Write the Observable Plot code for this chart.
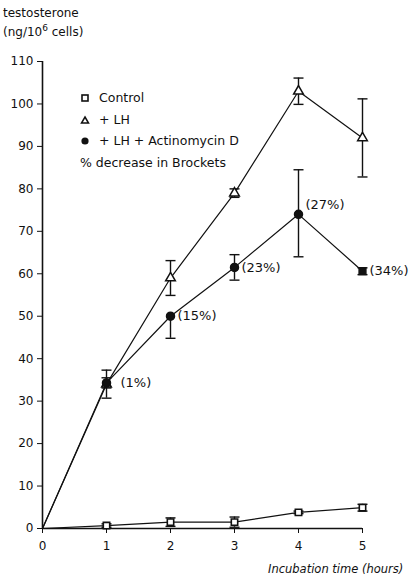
<!DOCTYPE html>
<html>
<head>
<meta charset="utf-8">
<script src="https://cdn.jsdelivr.net/npm/d3@7"></script>
<script src="https://cdn.jsdelivr.net/npm/@observablehq/plot@0.6"></script>
<style>
  body { margin: 0; background: #fff; }
  #wrap { position: relative; width: 410px; height: 579px; font-family: "DejaVu Sans", sans-serif; color: #111; }
  .lbl { position: absolute; font-size: 12px; white-space: nowrap; line-height: 1; }
  .leg { position: absolute; font-size: 12.5px; white-space: nowrap; line-height: 1; display: flex; align-items: center; }
  .leg svg { margin-right: 9px; }
</style>
</head>
<body>
<div id="wrap">
  <div id="chart"></div>
</div>
<script>
const hours = [0, 1, 2, 3, 4, 5];
const control = [0, 0.7, 1.5, 1.5, 3.8, 4.9];
const controlErr = [0, 0.4, 1.0, 1.2, 0.3, 0.8];
const lh = [0, 34, 59, 79, 103, 92];
const lhErr = [0, 3.3, 4.1, 1.0, 3.1, 9.2];
const act = [0, 34.3, 50, 61.5, 74, 60.6];
const actErrUp = [0, 1.2, 0, 3.0, 10.5, 0.8];
const actErrDown = [0, 1.2, 5.2, 3.0, 10.0, 0.8];
const pctLabels = ["", "(1%)", "(15%)", "(23%)", "(27%)", "(34%)"];
const yTicks = [0, 10, 20, 30, 40, 50, 60, 70, 80, 90, 100, 110];
const legendNames = ["Control", "+ LH", "+ LH + Actinomycin D"];
const noteText = "% decrease in Brockets";
const yTitle1 = "testosterone";
const yTitle2 = "(ng/10<sup style='font-size:9px'>6</sup> cells)";
const xTitle = "Incubation time (hours)";

const rows = (vals, lo, hi) => hours.map((h, i) => ({x: h, y: vals[i], lo: vals[i] - lo[i], hi: vals[i] + hi[i], label: pctLabels[i], i}));
const cRows = rows(control, controlErr, controlErr);
const lRows = rows(lh, lhErr, lhErr);
const aRows = rows(act, actErrDown, actErrUp);
const pts = r => r.filter(d => d.x > 0);

const cap = {draw(ctx, size) { const w = 5; ctx.moveTo(-w, 0); ctx.lineTo(w, 0); }};
const errMarks = (r) => [
  Plot.ruleX(pts(r), {x: "x", y1: "lo", y2: "hi", stroke: "#111", strokeWidth: 1.4}),
  Plot.dot(pts(r).filter(d => d.hi > d.y), {x: "x", y: "hi", symbol: cap, stroke: "#111", strokeWidth: 1.4, r: 5}),
  Plot.dot(pts(r).filter(d => d.lo < d.y), {x: "x", y: "lo", symbol: cap, stroke: "#111", strokeWidth: 1.4, r: 5})
];

const chart = Plot.plot({
  width: 410,
  height: 579,
  marginLeft: 42,
  marginRight: 48,
  marginTop: 61,
  marginBottom: 51,
  style: {fontFamily: "DejaVu Sans, sans-serif", fontSize: "12px", color: "#111", background: "white"},
  x: {domain: [0, 5], ticks: hours, tickSize: 5, tickPadding: 8, label: null, tickFormat: d3.format("d")},
  y: {domain: [0, 110], ticks: yTicks, tickSize: 5, tickPadding: 4, label: null},
  marks: [
    Plot.ruleY([0], {stroke: "#111", strokeWidth: 1.6}),
    Plot.ruleX([0], {stroke: "#111", strokeWidth: 1.6}),
    Plot.line(cRows, {x: "x", y: "y", stroke: "#111", strokeWidth: 1.2}),
    Plot.line(lRows, {x: "x", y: "y", stroke: "#111", strokeWidth: 1.2}),
    Plot.line(aRows, {x: "x", y: "y", stroke: "#111", strokeWidth: 1.2}),
    ...errMarks(cRows),
    ...errMarks(lRows),
    ...errMarks(aRows),
    Plot.dot(pts(cRows), {x: "x", y: "y", symbol: "square", r: 3.6, fill: "white", stroke: "#111", strokeWidth: 1.6}),
    Plot.dot(pts(lRows), {x: "x", y: "y", symbol: "triangle", r: 3.6, fill: "white", stroke: "#111", strokeWidth: 1.5}),
    Plot.dot(pts(aRows).filter(d => d.x < 5), {x: "x", y: "y", symbol: "circle", r: 4, fill: "#111", stroke: "#111"}),
    Plot.dot(pts(aRows).filter(d => d.x === 5), {x: "x", y: "y", symbol: "square", r: 3.8, fill: "#111", stroke: "#111"}),
    Plot.text(pts(aRows).filter(d => d.x === 1), {x: "x", y: "y", text: "label", textAnchor: "start", dx: 14, fontSize: 13}),
    Plot.text(pts(aRows).filter(d => d.x === 2 || d.x === 3 || d.x === 5), {x: "x", y: "y", text: "label", textAnchor: "start", dx: 7, fontSize: 13}),
    Plot.text(pts(aRows).filter(d => d.x === 4), {x: "x", y: "y", text: "label", textAnchor: "start", dx: 7, dy: -10, fontSize: 13})
  ]
});
document.getElementById("chart").appendChild(chart);

const wrap = document.getElementById("wrap");
function addLabel(html, left, top, cls, extra) {
  const d = document.createElement("div");
  d.className = cls;
  d.innerHTML = html;
  d.style.left = left + "px";
  d.style.top = top + "px";
  if (extra) Object.assign(d.style, extra);
  wrap.appendChild(d);
  return d;
}
addLabel(yTitle1, 3, 7, "lbl");
addLabel(yTitle2, 3, 24, "lbl");
addLabel(xTitle, 268, 564, "lbl", {fontStyle: "italic", fontSize: "11.5px"});

const icons = [
  "<svg width='10' height='10'><rect x='2' y='2' width='6' height='6' fill='white' stroke='#111' stroke-width='1.6'/></svg>",
  "<svg width='10' height='10'><path d='M5 2 L8.5 8 L1.5 8 Z' fill='white' stroke='#111' stroke-width='1.5'/></svg>",
  "<svg width='10' height='10'><circle cx='5' cy='5' r='3.6' fill='#111'/></svg>"
];
legendNames.forEach((name, i) => addLabel(icons[i] + "<span>" + name + "</span>", 80, 92 + i * 21.5, "leg"));
addLabel(noteText, 80, 157, "leg");
</script>
</body>
</html>
